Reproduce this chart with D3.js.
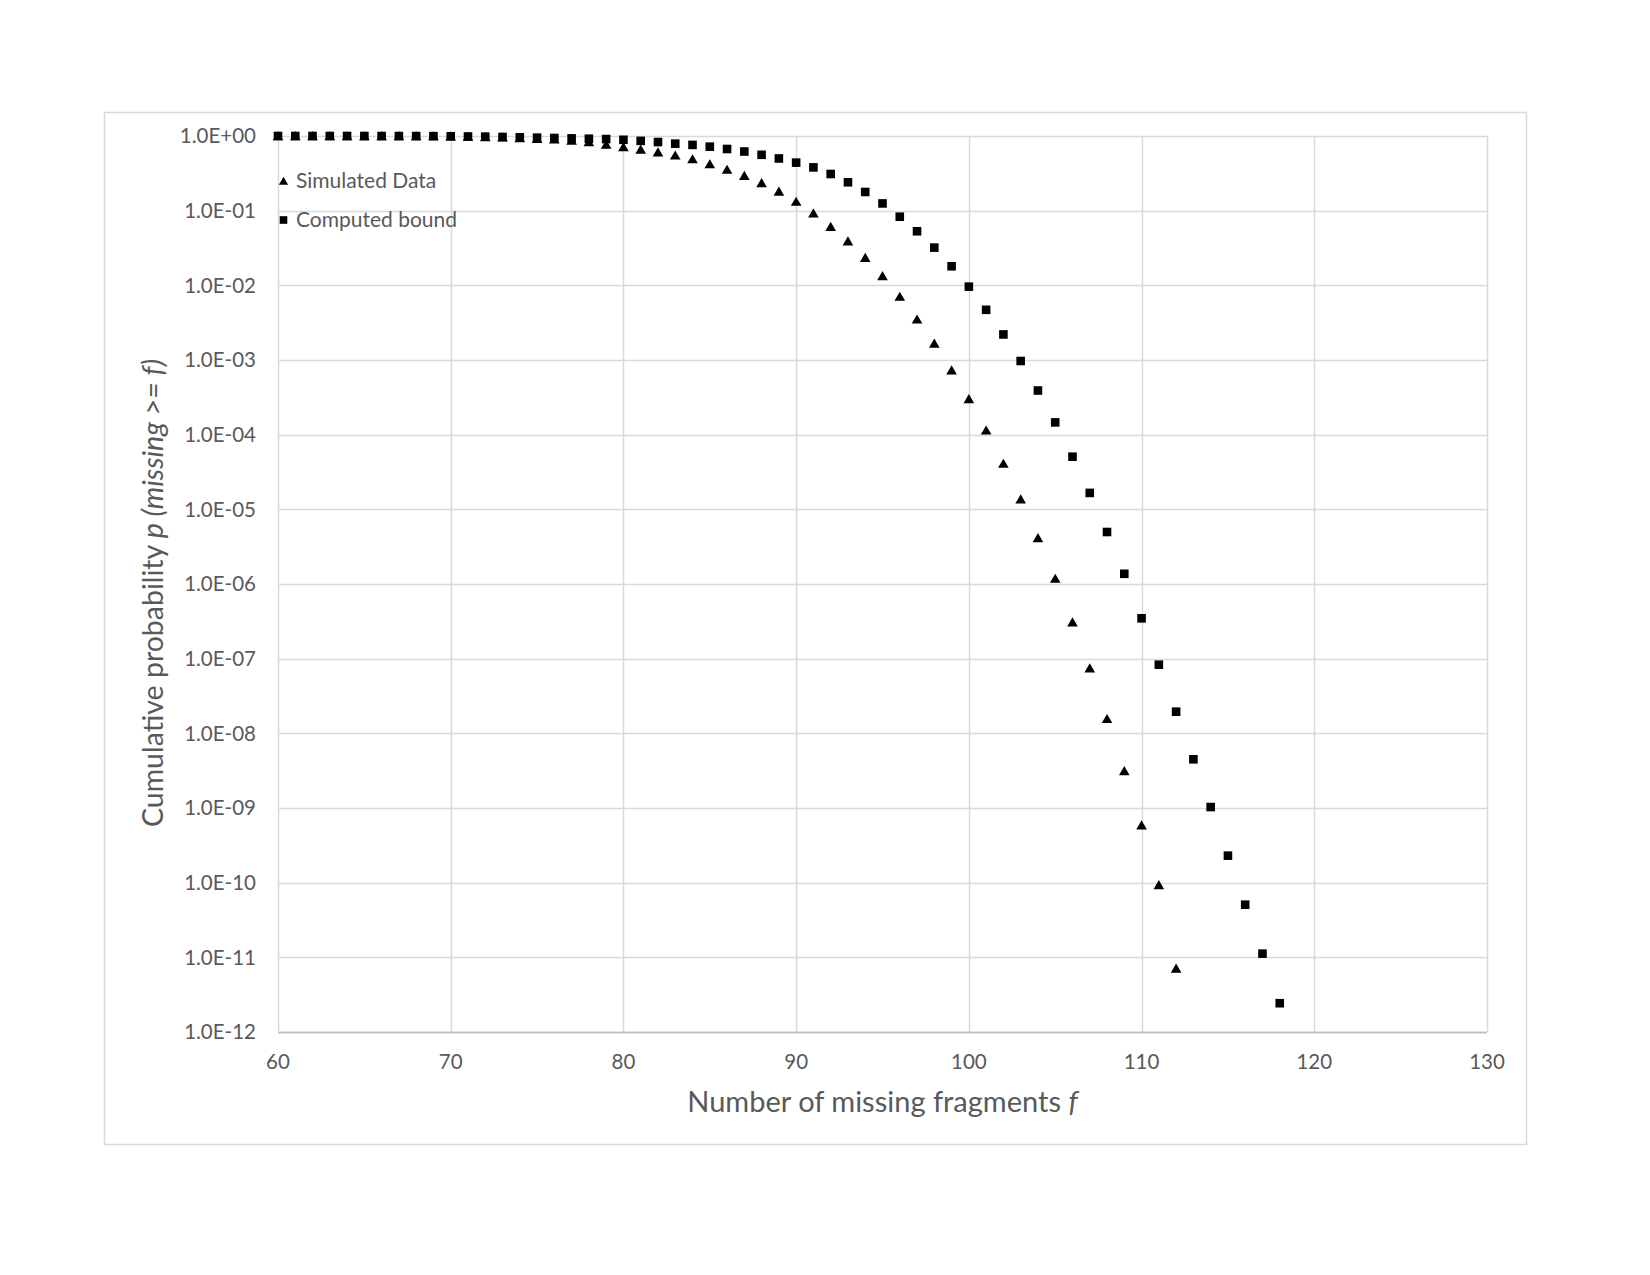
<!DOCTYPE html>
<html>
<head>
<meta charset="utf-8">
<script src="https://cdn.jsdelivr.net/npm/d3@7"></script>
<style>
  html, body { margin: 0; padding: 0; background: #fff; }
  svg { display: block; }
  text { font-family: Lato, "Open Sans", sans-serif; fill: #595959; }
</style>
</head>
<body>
<script>
// ---- data ----
const simX = d3.range(60, 113);
const simY = [1.0, 1.0, 1.0, 1.0, 1.0, 0.999, 0.999, 0.998, 0.997, 0.995,
  0.99, 0.98, 0.97, 0.96, 0.94, 0.92, 0.90, 0.87, 0.83, 0.77,
  0.71, 0.66, 0.605, 0.55, 0.49, 0.42, 0.354, 0.294, 0.235, 0.18,
  0.132, 0.092, 0.061, 0.039, 0.0234, 0.0133, 0.00705, 0.0035, 0.00166, 0.00073,
  0.0003, 1.14e-4, 4.09e-5, 1.36e-5, 4.13e-6, 1.18e-6, 3.07e-7, 7.43e-8, 1.56e-8, 3.13e-9,
  5.87e-10, 9.3e-11, 7.1e-12];
const boundX = d3.range(60, 119);
const boundY = [1.0, 1.0, 1.0, 1.0, 1.0, 0.999, 0.999, 0.998, 0.997, 0.995,
  0.99, 0.985, 0.98, 0.97, 0.96, 0.95, 0.94, 0.93, 0.92, 0.91,
  0.89, 0.86, 0.83, 0.79, 0.76, 0.72, 0.67, 0.62, 0.56, 0.50,
  0.44, 0.38, 0.31, 0.24, 0.178, 0.125, 0.083, 0.053, 0.032, 0.018,
  0.0096, 0.0047, 0.0022, 0.00097, 0.00039, 1.46e-4, 5.07e-5, 1.66e-5, 4.97e-6, 1.37e-6,
  3.47e-7, 8.3e-8, 1.95e-8, 4.49e-9, 1.03e-9, 2.30e-10, 5.07e-11, 1.12e-11, 2.43e-12];
const xTicks = [60, 70, 80, 90, 100, 110, 120, 130];
const yTicks = [1, 1e-1, 1e-2, 1e-3, 1e-4, 1e-5, 1e-6, 1e-7, 1e-8, 1e-9, 1e-10, 1e-11, 1e-12];
const yTickLabels = ["1.0E+00", "1.0E-01", "1.0E-02", "1.0E-03", "1.0E-04", "1.0E-05", "1.0E-06",
  "1.0E-07", "1.0E-08", "1.0E-09", "1.0E-10", "1.0E-11", "1.0E-12"];
const seriesNames = ["Simulated Data", "Computed bound"];

// ---- layout ----
const W = 1650, H = 1275;
const L = 278, R = 1487, T = 136, B = 1032;

const svg = d3.select("body").append("svg").attr("width", W).attr("height", H);

svg.append("rect").attr("x", 104.5).attr("y", 112.5).attr("width", 1422).attr("height", 1032)
  .attr("fill", "#fff").attr("stroke", "#d9d9d9").attr("stroke-width", 1.5);

const x = d3.scaleLinear().domain([60, 130]).range([L, R]);
const y = d3.scaleLog().domain([1e-12, 1]).range([B, T]);

// gridlines
const g = svg.append("g");
g.selectAll("line.h").data(yTicks).join("line")
  .attr("x1", L).attr("x2", R)
  .attr("y1", d => Math.round(y(d)) + 0.5).attr("y2", d => Math.round(y(d)) + 0.5)
  .attr("stroke", d => d === 1e-12 ? "#bfbfbf" : "#d9d9d9").attr("stroke-width", 1.5);
g.selectAll("line.v").data(xTicks).join("line")
  .attr("y1", T).attr("y2", B)
  .attr("x1", d => Math.round(x(d)) + 0.5).attr("x2", d => Math.round(x(d)) + 0.5)
  .attr("stroke", "#d9d9d9").attr("stroke-width", 1.5);
g.append("line").attr("x1", L).attr("x2", R).attr("y1", Math.round(y(1e-12)) + 0.5).attr("y2", Math.round(y(1e-12)) + 0.5)
  .attr("stroke", "#bfbfbf").attr("stroke-width", 1.5);

// tick labels
svg.append("g").selectAll("text").data(yTicks).join("text")
  .attr("x", L - 22).attr("y", d => y(d)).attr("dy", "0.35em")
  .attr("text-anchor", "end").attr("font-size", 20.5)
  .text((d, i) => yTickLabels[i]);
svg.append("g").selectAll("text").data(xTicks).join("text")
  .attr("x", d => x(d)).attr("y", 1069)
  .attr("text-anchor", "middle").attr("font-size", 20.5)
  .text(d => d);

// axis titles
const xt = svg.append("text").attr("x", (L + R) / 2).attr("y", 1112)
  .attr("text-anchor", "middle").attr("font-size", 29);
xt.append("tspan").text("Number of missing fragments ");
xt.append("tspan").attr("font-style", "italic").text("f");

const yt = svg.append("text").attr("transform", "translate(163,593) rotate(-90)")
  .attr("text-anchor", "middle").attr("font-size", 28.5);
yt.append("tspan").text("Cumulative probability ");
yt.append("tspan").attr("font-style", "italic").text("p (missing >= f)");

// markers
const triPath = "M0,-5L5.3,4.2L-5.3,4.2Z";
const sqPath = "M-4.3,-4.3H4.3V4.3H-4.3Z";

svg.append("g").selectAll("path").data(simX.map((d, i) => [d, simY[i]])).join("path")
  .attr("d", triPath).attr("fill", "#000")
  .attr("transform", d => `translate(${x(d[0])},${y(d[1])})`);
svg.append("g").selectAll("path").data(boundX.map((d, i) => [d, boundY[i]])).join("path")
  .attr("d", sqPath).attr("fill", "#000")
  .attr("transform", d => `translate(${x(d[0])},${y(d[1])})`);

// legend
const leg = svg.append("g");
const legPaths = [ "M0,-4.3L4.6,3.8L-4.6,3.8Z", "M-3.8,-3.8H3.8V3.8H-3.8Z" ];
const legY = [181, 220];
seriesNames.forEach((name, i) => {
  leg.append("path").attr("d", legPaths[i]).attr("fill", "#000")
    .attr("transform", `translate(283.5,${legY[i]})`);
  leg.append("text").attr("x", 296).attr("y", legY[i]).attr("dy", "0.35em")
    .attr("font-size", 21).text(name);
});
</script>
</body>
</html>
